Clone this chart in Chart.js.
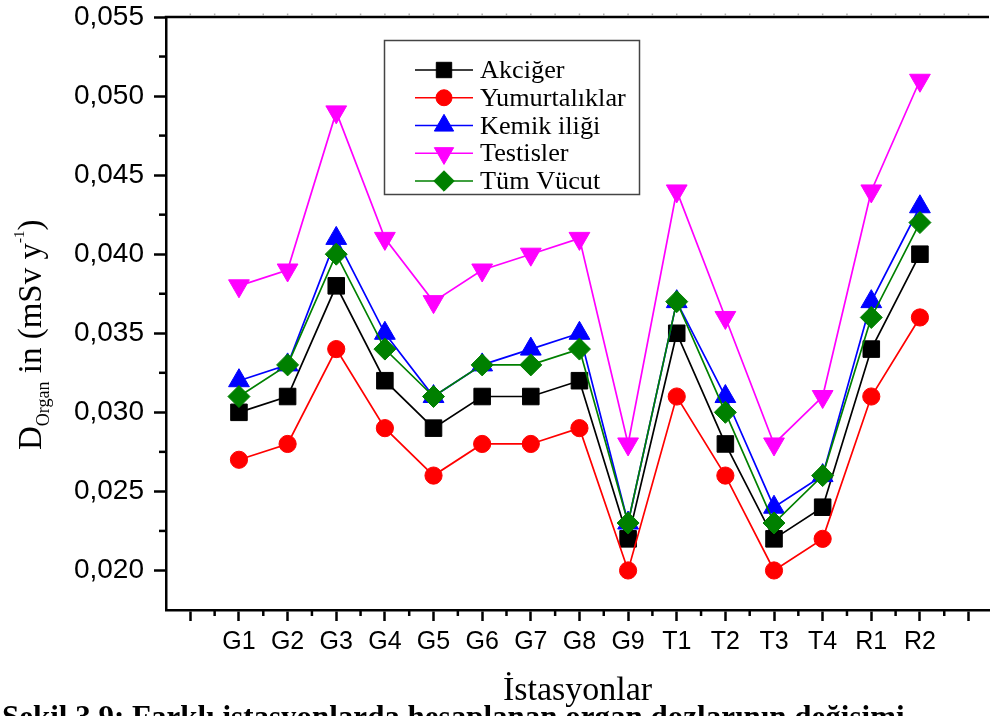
<!DOCTYPE html>
<html><head><meta charset="utf-8">
<script src="https://cdn.jsdelivr.net/npm/chart.js@4.4.0/dist/chart.umd.min.js"></script>
<style>html,body{margin:0;padding:0;background:#fff;overflow:hidden}#wrap{width:1002px;height:716px;position:relative}</style>
</head><body><div id="wrap"><canvas id="c" width="1002" height="716"></canvas></div>
<script>
// ---- data ----
const categories = ['G1','G2','G3','G4','G5','G6','G7','G8','G9','T1','T2','T3','T4','R1','R2'];
const akciger      = [0.030,0.031,0.038,0.032,0.029,0.031,0.031,0.032,0.022,0.035,0.028,0.022,0.024,0.034,0.040];
const yumurtaliklar= [0.027,0.028,0.034,0.029,0.026,0.028,0.028,0.029,0.020,0.031,0.026,0.020,0.022,0.031,0.036];
const kemikIligi   = [0.032,0.033,0.041,0.035,0.031,0.033,0.034,0.035,0.023,0.037,0.031,0.024,0.026,0.037,0.043];
const testisler    = [0.038,0.039,0.049,0.041,0.037,0.039,0.040,0.041,0.028,0.044,0.036,0.028,0.031,0.044,0.051];
const tumVucut     = [0.031,0.033,0.040,0.034,0.031,0.033,0.033,0.034,0.023,0.037,0.030,0.023,0.026,0.036,0.042];
const seriesNames  = ['Akciğer','Yumurtalıklar','Kemik iliği','Testisler','Tüm Vücut'];
const yTickValues  = [0.020,0.025,0.030,0.035,0.040,0.045,0.050,0.055];
const yMinorValues = [0.0225,0.0275,0.0325,0.0375,0.0425,0.0475,0.0525];
const yMin = 0.0175, yMax = 0.055;
const xMin = -0.5, xMax = 16.42;

const seriesValues = [akciger, yumurtaliklar, kemikIligi, testisler, tumVucut];
const styles = [
  {color:'#000000', pointStyle:'rect', radius:11.7, rotation:0},
  {color:'#ff0000', pointStyle:'circle', radius:8.6, rotation:0},
  {color:'#0000ff', pointStyle:'triangle', radius:12, rotation:0},
  {color:'#ff00ff', pointStyle:'triangle', radius:12, rotation:180},
  {color:'#008000', pointStyle:'rectRot', radius:11, rotation:0}
];

const datasets = seriesValues.map((vals, i) => ({
  label: seriesNames[i],
  data: vals.map((v, j) => ({x: j + 1, y: v})),
  borderColor: styles[i].color,
  backgroundColor: styles[i].color,
  pointBackgroundColor: styles[i].color,
  pointBorderColor: styles[i].color,
  pointStyle: styles[i].pointStyle,
  pointRotation: styles[i].rotation,
  pointRadius: styles[i].radius,
  pointHoverRadius: styles[i].radius,
  pointBorderWidth: 1,
  borderWidth: 1.7,
  tension: 0,
  fill: false,
  order: 4 - i
}));

function drawMarker(ctx, st, x, y, scale) {
  const r = st.radius * scale;
  ctx.fillStyle = st.color; ctx.strokeStyle = st.color; ctx.lineWidth = 1;
  ctx.beginPath();
  if (st.pointStyle === 'rect') {
    const s = r * Math.SQRT1_2;
    ctx.rect(x - s, y - s, 2 * s, 2 * s);
  } else if (st.pointStyle === 'circle') {
    ctx.arc(x, y, r, 0, Math.PI * 2);
  } else if (st.pointStyle === 'rectRot') {
    ctx.moveTo(x, y - r); ctx.lineTo(x + r, y); ctx.lineTo(x, y + r); ctx.lineTo(x - r, y); ctx.closePath();
  } else if (st.pointStyle === 'triangle') {
    let rad = st.rotation * Math.PI / 180;
    ctx.moveTo(x + Math.sin(rad) * r, y - Math.cos(rad) * r);
    rad += 2 * Math.PI / 3;
    ctx.lineTo(x + Math.sin(rad) * r, y - Math.cos(rad) * r);
    rad += 2 * Math.PI / 3;
    ctx.lineTo(x + Math.sin(rad) * r, y - Math.cos(rad) * r);
    ctx.closePath();
  }
  ctx.fill(); ctx.stroke();
}

const custom = {
  id: 'custom',
  afterDraw(chart) {
    const ctx = chart.ctx, a = chart.chartArea, xs = chart.scales.x, ys = chart.scales.y;
    ctx.save();
    // top border
    ctx.strokeStyle = '#000'; ctx.lineWidth = 2.5;
    ctx.beginPath(); ctx.moveTo(a.left - 1.25, a.top); ctx.lineTo(a.right, a.top); ctx.stroke();
    // faint top ticks
    ctx.strokeStyle = '#b0b0b0'; ctx.lineWidth = 1.5;
    for (let v = 0; v <= xMax; v += 0.5) {
      const px = xs.getPixelForValue(v);
      ctx.beginPath(); ctx.moveTo(px, a.top - 1); ctx.lineTo(px, a.top - 3.5); ctx.stroke();
    }
    // minor ticks
    ctx.strokeStyle = '#000'; ctx.lineWidth = 2.5;
    yMinorValues.forEach(v => {
      const py = ys.getPixelForValue(v);
      ctx.beginPath(); ctx.moveTo(a.left, py); ctx.lineTo(a.left - 7, py); ctx.stroke();
    });
    for (let v = 0.5; v <= xMax; v += 1) {
      const px = xs.getPixelForValue(v);
      ctx.beginPath(); ctx.moveTo(px, a.bottom); ctx.lineTo(px, a.bottom + 6); ctx.stroke();
    }
    // legend
    const lx = 384, ly = 40, lw = 255, lh = 154;
    ctx.fillStyle = '#fff'; ctx.fillRect(lx, ly, lw, lh);
    ctx.strokeStyle = '#444'; ctx.lineWidth = 1.5;
    ctx.strokeRect(lx + 0.5, ly + 0.5, lw, lh);
    ctx.font = '25px "Liberation Serif", "Times New Roman", serif';
    ctx.textBaseline = 'alphabetic'; ctx.textAlign = 'left';
    seriesNames.forEach((name, i) => {
      const cy = 70 + i * 27.75;
      ctx.strokeStyle = styles[i].color; ctx.lineWidth = 1.7;
      ctx.beginPath(); ctx.moveTo(415, cy); ctx.lineTo(473, cy); ctx.stroke();
      drawMarker(ctx, styles[i], 444, cy, 0.93);
      ctx.fillStyle = '#000';
      ctx.save();
      ctx.translate(480, cy + 8);
      ctx.scale(1.05, 1);
      ctx.fillText(name, 0, 0);
      ctx.restore();
    });
    // y title
    ctx.save();
    ctx.translate(41, 450);
    ctx.rotate(-Math.PI / 2);
    ctx.fillStyle = '#000'; ctx.textBaseline = 'alphabetic'; ctx.textAlign = 'left';
    const segs = [
      {t:'D', s:33, dy:0},
      {t:'Organ', s:18, dy:8},
      {t:' in (mSv y', s:33, dy:0},
      {t:'-1', s:15, dy:-17},
      {t:')', s:33, dy:0}
    ];
    let u = 0;
    segs.forEach(sg => {
      ctx.font = sg.s + 'px "Liberation Serif", "Times New Roman", serif';
      ctx.fillText(sg.t, u, sg.dy);
      u += ctx.measureText(sg.t).width;
    });
    ctx.restore();
    // x title
    ctx.font = '34px "Liberation Serif", "Times New Roman", serif';
    ctx.textAlign = 'center'; ctx.fillStyle = '#000';
    ctx.fillText('İstasyonlar', (a.left + a.right) / 2, 700);
    // caption (cut off at the bottom)
    ctx.font = 'bold 31px "Liberation Serif", "Times New Roman", serif';
    ctx.textAlign = 'left';
    ctx.fillText('Şekil 3.9: Farklı istasyonlarda hesaplanan organ dozlarının değişimi', 2, 727);
    ctx.restore();
  }
};

new Chart(document.getElementById('c'), {
  type: 'line',
  data: {datasets},
  options: {
    responsive: false,
    animation: false,
    devicePixelRatio: 1,
    layout: {padding: {top: 17, left: 0, right: 0, bottom: 0}},
    plugins: {legend: {display: false}, tooltip: {enabled: false}},
    scales: {
      x: {
        type: 'linear', min: xMin, max: xMax,
        afterBuildTicks: s => { const t = []; for (let i = 0; i <= 16; i++) t.push({value: i}); s.ticks = t; },
        afterFit: s => { s.height = 106; s.paddingLeft = 0; s.paddingRight = 0; },
        grid: {drawOnChartArea: false, drawTicks: true, tickLength: 11, tickWidth: 2.5, tickColor: '#000'},
        border: {display: true, color: '#000', width: 2.5},
        ticks: {
          autoSkip: false, maxRotation: 0, padding: 6, color: '#000',
          font: {family: '"Liberation Sans", Arial, sans-serif', size: 25},
          callback: v => categories[v - 1] || ''
        }
      },
      y: {
        type: 'linear', min: yMin, max: yMax,
        afterBuildTicks: s => { s.ticks = yTickValues.map(v => ({value: v})); },
        afterFit: s => { s.width = 166; s.paddingTop = 0; s.paddingBottom = 0; },
        grid: {drawOnChartArea: false, drawTicks: true, tickLength: 12, tickWidth: 2.5, tickColor: '#000'},
        border: {display: true, color: '#000', width: 2.5},
        ticks: {
          padding: 10, color: '#000',
          font: {family: '"Liberation Sans", Arial, sans-serif', size: 28},
          callback: v => v.toFixed(3).replace('.', ',')
        }
      }
    }
  },
  plugins: [custom]
});
</script>
</body></html>
